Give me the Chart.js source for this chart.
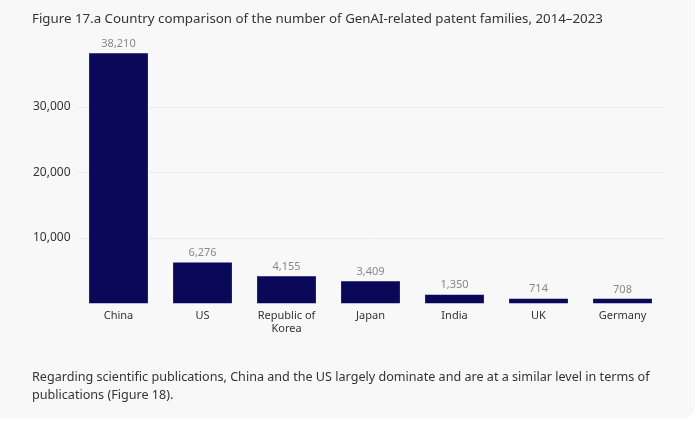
<!DOCTYPE html>
<html>
<head>
<meta charset="utf-8">
<script src="https://cdn.jsdelivr.net/npm/chart.js@4"></script>
<style>
  html, body { margin: 0; padding: 0; background: #fff; width: 699px; height: 427px; overflow: hidden; }
  body { font-family: "Noto Sans", "Open Sans", sans-serif; color: #333; }
  .card { position: absolute; left: -12px; top: -12px; width: 706px; height: 430px; background: #f8f8f9; border-radius: 12px; box-shadow: 0 0 2px rgba(0,0,0,0.08); }
  .title { position: absolute; left: 32px; top: 9px; font-size: 13.3px; color: #333; white-space: nowrap; }
  .footer { position: absolute; left: 32px; top: 368px; font-size: 12.6px; line-height: 18px; color: #333; width: 640px; }
  #wrap { position: absolute; left: 0; top: 0; width: 699px; height: 427px; }
</style>
</head>
<body>
<div class="card"></div>
<div id="wrap"><canvas id="chart"></canvas></div>
<div class="title">Figure 17.a Country comparison of the number of GenAI-related patent families, 2014–2023</div>
<div class="footer">Regarding scientific publications, China and the US largely dominate and are at a similar level in terms of publications (Figure 18).</div>
<script>
const countries = ['China', 'US', ['Republic of', 'Korea'], 'Japan', 'India', 'UK', 'Germany'];
const patentFamilies = [38210, 6276, 4155, 3409, 1350, 714, 708];
const yTicks = [10000, 20000, 30000];

// value labels above each bar
const valueLabels = {
  id: 'valueLabels',
  afterDatasetsDraw(chart) {
    const ctx = chart.ctx;
    const meta = chart.getDatasetMeta(0);
    ctx.save();
    ctx.font = '11px "Noto Sans", sans-serif';
    ctx.fillStyle = '#888';
    ctx.textAlign = 'center';
    ctx.textBaseline = 'bottom';
    meta.data.forEach((bar, i) => {
      ctx.fillText(patentFamilies[i].toLocaleString('en-US'), bar.x, bar.y - 4);
    });
    ctx.restore();
  }
};

new Chart(document.getElementById('chart'), {
  type: 'bar',
  data: {
    labels: countries,
    datasets: [{
      data: patentFamilies,
      backgroundColor: '#0a0858',
      borderWidth: 0,
      categoryPercentage: 1,
      barPercentage: 0.7
    }]
  },
  options: {
    responsive: true,
    maintainAspectRatio: false,
    animation: false,
    layout: { padding: { top: 41.5, right: 34.5, left: 0, bottom: 0 } },
    plugins: { legend: { display: false }, tooltip: { enabled: false } },
    scales: {
      x: {
        grid: { display: false },
        border: { display: false },
        ticks: { color: '#333', font: { family: 'Noto Sans', size: 11 }, padding: -2, maxRotation: 0 },
        afterFit(scale) { scale.height = 427 - 303.5; }
      },
      y: {
        min: 0,
        max: 40000,
        afterBuildTicks(scale) { scale.ticks = yTicks.map(v => ({ value: v })); },
        afterFit(scale) { scale.width = 76.5; },
        border: { display: false },
        grid: { color: '#ececee', drawTicks: false },
        ticks: {
          color: '#333',
          font: { family: 'Noto Sans', size: 12 },
          padding: 6,
          callback: v => v.toLocaleString('en-US')
        }
      }
    }
  },
  plugins: [valueLabels]
});
</script>
</body>
</html>
